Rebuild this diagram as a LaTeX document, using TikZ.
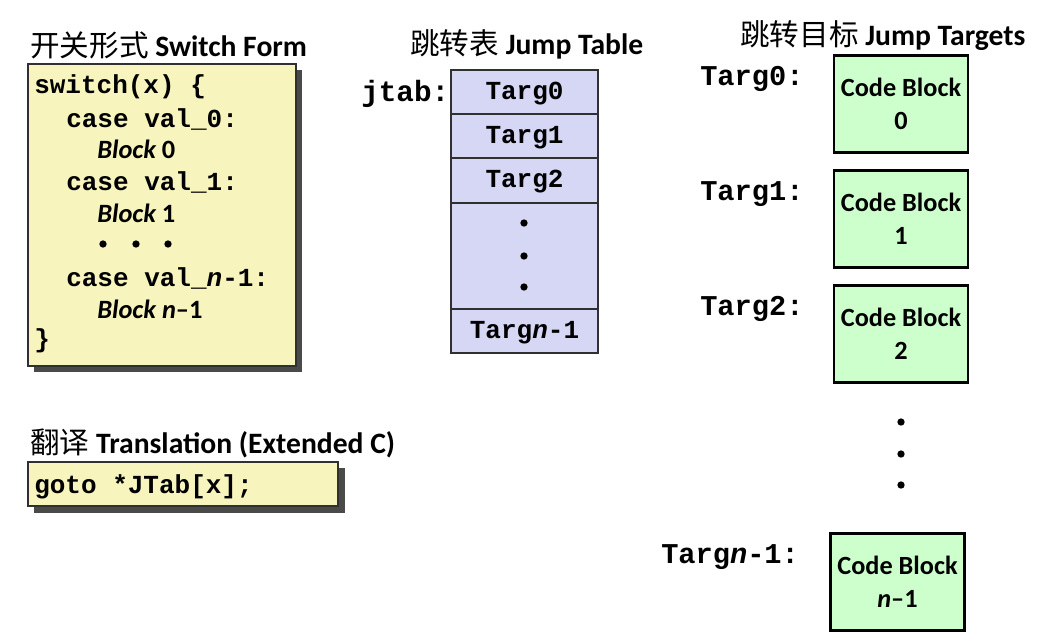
\documentclass[tikz,border=0pt]{standalone}
\usepackage{fontspec}
\setmainfont{Carlito}
\newfontfamily\cjk{Noto Sans CJK SC}
\newfontfamily\cour{Liberation Mono}[BoldFont={* Bold},BoldItalicFont={* Bold Italic}]
\definecolor{yel}{HTML}{F7F4BD}
\definecolor{lav}{HTML}{D6D6F5}
\definecolor{grn}{HTML}{CCFFCC}
\definecolor{shad}{HTML}{4A4A4A}
\definecolor{bord}{HTML}{303030}
\newcommand{\celltxt}[1]{\raisebox{-5.6pt}[0pt][0pt]{#1}}
\tikzset{
  title/.style={inner sep=0pt, anchor=west, font=\fontsize{22.2}{25}\selectfont\bfseries},
  code/.style={inner sep=0pt, anchor=west, font=\fontsize{19.5}{22}\selectfont\cour\bfseries},
  blk/.style={inner sep=0pt, anchor=west, font=\fontsize{19.8}{22}\selectfont\bfseries},
  lbl/.style={inner sep=0pt, anchor=west, font=\fontsize{21.5}{24}\selectfont\cour\bfseries},
  cell/.style={draw=bord, line width=1.6pt, fill=lav, minimum width=110.25pt, inner sep=0pt, font=\fontsize{19.5}{22}\selectfont\cour\bfseries},
  cblock/.style={draw=black, line width=1.6pt, fill=grn, minimum width=100.5pt, minimum height=72.75pt, inner sep=0pt, align=center, font=\fontsize{19.7}{24.5}\selectfont\bfseries},
  dot/.style={circle, fill=black, inner sep=0pt, minimum size=5.5pt},
}
\begin{document}
\begin{tikzpicture}[x=0.75pt,y=-0.75pt]
\useasboundingbox (0,0) rectangle (1042,640);
% titles
\node[title] (t1) at (30,45) {{\cjk\mdseries 开关形式} Switch Form};
\node[title] (t2) at (410,44) {{\cjk\mdseries 跳转表} Jump Table};
\node[title] (t3) at (740,36) {{\cjk\mdseries 跳转目标} Jump Targets};
\node[title] (t4) at (30,443) {{\cjk\mdseries 翻译} Translation (Extended C)};
% switch box
\fill[shad] (34,70) rectangle (302,372);
\draw[bord, line width=0.8pt, fill=yel] (28,64) rectangle (296,366);
\node[code] (l1) at (34,87) {switch(x) \{};
\node[code] (l2) at (66,119) {case val\_0:};
\node[blk] (l3) at (97,149) {\itshape Block\upshape\ 0};
\node[code] (l4) at (66,182) {case val\_1:};
\node[blk] (l5) at (97,213) {\itshape Block\upshape\ 1};
\node[dot] (d1) at (103,244) {};
\node[dot] (d2) at (136,244) {};
\node[dot] (d3) at (168,244) {};
\node[code] (l6) at (66,278) {case val\_\textit{n}-1:};
\node[blk] (l7) at (97,309) {\itshape Block n\upshape{}–1};
\node[code] (l8) at (34,341) {\}};
% translation box
\fill[shad] (34,468) rectangle (345,513);
\draw[bord, line width=0.8pt, fill=yel] (28,462) rectangle (338,506);
\node[code] (g1) at (34,487) {goto *JTab[x];};
% jump table
\node[lbl, font=\fontsize{22}{24}\selectfont\cour\bfseries] (jt) at (361,94) {jtab:};
\node[cell, minimum height=33pt] (c0) at (524.5,92) {\celltxt{Targ0}};
\node[cell, minimum height=33pt] (c1) at (524.5,136) {\celltxt{Targ1}};
\node[cell, minimum height=33.75pt] (c2) at (524.5,180.5) {\celltxt{Targ2}};
\node[cell, minimum height=79.5pt] (c3) at (524.5,256) {};
\node[cell, minimum height=33pt] (c4) at (524.5,331) {\celltxt{Targ\textit{n}-1}};
\node[dot] (e1) at (524,223) {};
\node[dot] (e2) at (524,256) {};
\node[dot] (e3) at (524,287) {};
% targets
\node[cblock] (b0) at (901,104) {Code Block\\0};
\node[cblock] (b1) at (901,219) {Code Block\\1};
\node[cblock] (b2) at (901,334) {Code Block\\2};
\node[cblock] (b3) at (897.5,582) {Code Block\\\textit{n}–1};
\node[lbl] (k0) at (700,79) {Targ0:};
\node[lbl] (k1) at (700,194) {Targ1:};
\node[lbl] (k2) at (700,309) {Targ2:};
\node[lbl] (k3) at (661,557) {Targ\textit{n}-1:};
\node[dot] (f1) at (901,422) {};
\node[dot] (f2) at (901,454) {};
\node[dot] (f3) at (901,485) {};
\end{tikzpicture}
\end{document}
